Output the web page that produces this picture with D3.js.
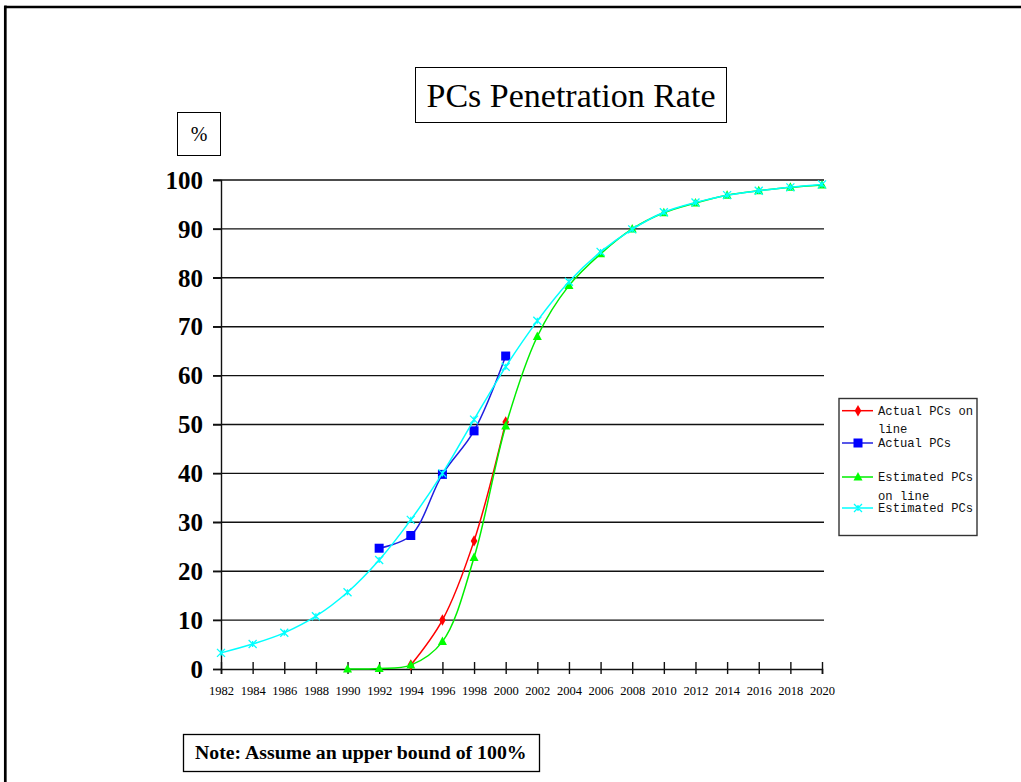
<!DOCTYPE html>
<html>
<head>
<meta charset="utf-8">
<script src="https://cdn.jsdelivr.net/npm/d3@7"></script>
<style>
  html, body { margin: 0; padding: 0; background: #fff; }
  svg { display: block; }
</style>
</head>
<body>
<svg id="chart" width="1021" height="782"></svg>
<script>
// ---- data ----
const yearTicks = d3.range(1982, 2021, 2);
const yTicks = [0, 10, 20, 30, 40, 50, 60, 70, 80, 90, 100];

const actualOnlineYears = [1994, 1996, 1998, 2000];
const actualOnlineValues = [0.8, 10.0, 26.2, 50.5];

const actualYears = [1992, 1994, 1996, 1998, 2000];
const actualValues = [24.7, 27.3, 39.8, 48.7, 64.0];

const estOnlineYears = [1990, 1992, 1994, 1996, 1998, 2000, 2002, 2004, 2006, 2008, 2010, 2012, 2014, 2016, 2018, 2020];
const estOnlineValues = [0, 0.1, 0.8, 5.6, 22.8, 49.7, 68.0, 78.4, 84.9, 90.0, 93.3, 95.3, 96.9, 97.8, 98.5, 99.0];

const estYears = [1982, 1984, 1986, 1988, 1990, 1992, 1994, 1996, 1998, 2000, 2002, 2004, 2006, 2008, 2010, 2012, 2014, 2016, 2018, 2020];
const estValues = [3.3, 5.1, 7.4, 10.8, 15.7, 22.3, 30.5, 40.0, 51.0, 61.8, 71.2, 79.2, 85.3, 89.9, 93.4, 95.4, 96.9, 97.8, 98.5, 99.1];

const seriesNames = ["Actual PCs on line", "Actual PCs", "Estimated PCs on line", "Estimated PCs"];
const legendLines = [["Actual PCs on", "line"], ["Actual PCs"], ["Estimated PCs", "on line"], ["Estimated PCs"]];
const seriesColors = ["#ff0000", "#0000ff", "#00ff00", "#00ffff"];
const seriesLineColors = ["#ff0000", "#2020e0", "#00ee00", "#00ffff"];
const seriesMarkers = ["diamond", "square", "triangle", "cross"];

const titleText = "PCs Penetration Rate";
const unitText = "%";
const noteText = "Note: Assume an upper bound of 100%";

// ---- drawing ----
const svg = d3.select("#chart");
const serif = "Liberation Serif, Times New Roman, serif";
const mono = "Liberation Mono, Courier New, monospace";

// page frame (top and left borders)
svg.append("line").attr("x1", 5.3).attr("x2", 1021).attr("y1", 7).attr("y2", 7)
  .attr("stroke", "#000").attr("stroke-width", 2.7);
svg.append("line").attr("x1", 5.3).attr("x2", 5.3).attr("y1", 5.6).attr("y2", 782)
  .attr("stroke", "#000").attr("stroke-width", 2.7);

const x = d3.scaleLinear().domain([1982, 2020]).range([221, 822]);
const y = d3.scaleLinear().domain([0, 100]).range([669, 180]);

// gridlines
svg.append("g").selectAll("line").data(yTicks.filter(d => d > 0)).join("line")
  .attr("x1", 213).attr("x2", 824)
  .attr("y1", d => y(d)).attr("y2", d => y(d))
  .attr("stroke", "#111").attr("stroke-width", 1.4);

// y axis
const yAxis = svg.append("g").attr("transform", `translate(${x(1982)},0)`)
  .call(d3.axisLeft(y).tickValues(yTicks).tickSize(8).tickPadding(10).tickFormat(d3.format("d")));
yAxis.select(".domain").attr("stroke", "#111").attr("stroke-width", 1.4);
yAxis.selectAll(".tick line").attr("stroke", "#111").attr("stroke-width", 1.4);
yAxis.selectAll(".tick text").attr("font-family", serif).attr("font-size", 25)
  .attr("font-weight", "bold").attr("fill", "#000").attr("dy", "0.33em");

// x axis
const xAxis = svg.append("g").attr("transform", `translate(0,${y(0)})`)
  .call(d3.axisBottom(x).tickValues(yearTicks).tickSize(5).tickPadding(12).tickFormat(d3.format("d")));
xAxis.select(".domain").attr("stroke", "#111").attr("stroke-width", 1.6);
xAxis.selectAll(".tick line").attr("y1", -7).attr("y2", 5).attr("stroke", "#111").attr("stroke-width", 1.4);
xAxis.selectAll(".tick text").attr("font-family", serif).attr("font-size", 12.5).attr("fill", "#000");

// series
const seriesData = [
  actualOnlineYears.map((yr, i) => [yr, actualOnlineValues[i]]),
  actualYears.map((yr, i) => [yr, actualValues[i]]),
  estOnlineYears.map((yr, i) => [yr, estOnlineValues[i]]),
  estYears.map((yr, i) => [yr, estValues[i]])
];

const line = d3.line().x(d => x(d[0])).y(d => y(d[1])).curve(d3.curveCatmullRom.alpha(0.5));

function drawMarker(g, type, color, cx, cy) {
  if (type === "diamond") {
    g.append("path").attr("d", d3.symbol(d3.symbolDiamond, 38)())
      .attr("transform", `translate(${cx},${cy})`).attr("fill", color);
  } else if (type === "square") {
    g.append("rect").attr("x", cx - 4.5).attr("y", cy - 4.5).attr("width", 9).attr("height", 9).attr("fill", color);
  } else if (type === "triangle") {
    g.append("path").attr("d", `M${cx},${cy - 5}L${cx + 4.5},${cy + 3.5}L${cx - 4.5},${cy + 3.5}Z`).attr("fill", color);
  } else if (type === "cross") {
    g.append("path").attr("d", `M${cx - 4},${cy - 4}L${cx + 4},${cy + 4}M${cx - 4},${cy + 4}L${cx + 4},${cy - 4}M${cx},${cy - 3}L${cx},${cy + 3}`)
      .attr("stroke", color).attr("stroke-width", 1.3).attr("fill", "none");
  }
}

seriesData.forEach((data, i) => {
  const g = svg.append("g");
  g.append("path").datum(data).attr("d", line)
    .attr("fill", "none").attr("stroke", seriesLineColors[i]).attr("stroke-width", 1.5);
  data.forEach(d => drawMarker(g, seriesMarkers[i], seriesColors[i], x(d[0]), y(d[1])));
});

// title box
svg.append("rect").attr("x", 415.5).attr("y", 67.5).attr("width", 311).attr("height", 55)
  .attr("fill", "#fff").attr("stroke", "#000").attr("stroke-width", 1);
svg.append("text").attr("x", 571).attr("y", 107).attr("text-anchor", "middle")
  .attr("font-family", serif).attr("font-size", 34).text(titleText);

// unit box
svg.append("rect").attr("x", 177.5).attr("y", 112.5).attr("width", 43).attr("height", 43)
  .attr("fill", "#fff").attr("stroke", "#000").attr("stroke-width", 1);
svg.append("text").attr("x", 199).attr("y", 141).attr("text-anchor", "middle")
  .attr("font-family", serif).attr("font-size", 20).text(unitText);

// note box
svg.append("rect").attr("x", 183.5).attr("y", 734.5).attr("width", 356).attr("height", 37)
  .attr("fill", "#fff").attr("stroke", "#000").attr("stroke-width", 1.3);
svg.append("text").attr("x", 195).attr("y", 759).attr("font-family", serif)
  .attr("font-size", 19.8).attr("font-weight", "bold").text(noteText);

// legend
const lg = svg.append("g");
lg.append("rect").attr("x", 839).attr("y", 398.5).attr("width", 138).attr("height", 137)
  .attr("fill", "#fff").attr("stroke", "#333").attr("stroke-width", 1.4);
const legendY = [410.7, 443, 477, 508];
seriesNames.forEach((name, i) => {
  const ly = legendY[i];
  lg.append("line").attr("x1", 842).attr("x2", 873).attr("y1", ly).attr("y2", ly)
    .attr("stroke", seriesLineColors[i]).attr("stroke-width", 1.5);
  drawMarker(lg, seriesMarkers[i], seriesColors[i], 858, ly);
  const t = lg.append("text").attr("font-family", mono).attr("font-size", 12.2).attr("fill", "#111");
  legendLines[i].forEach((s, k) => {
    t.append("tspan").attr("x", 878).attr("y", ly + 4 + k * 18.5).text(s);
  });
});
</script>
</body>
</html>
